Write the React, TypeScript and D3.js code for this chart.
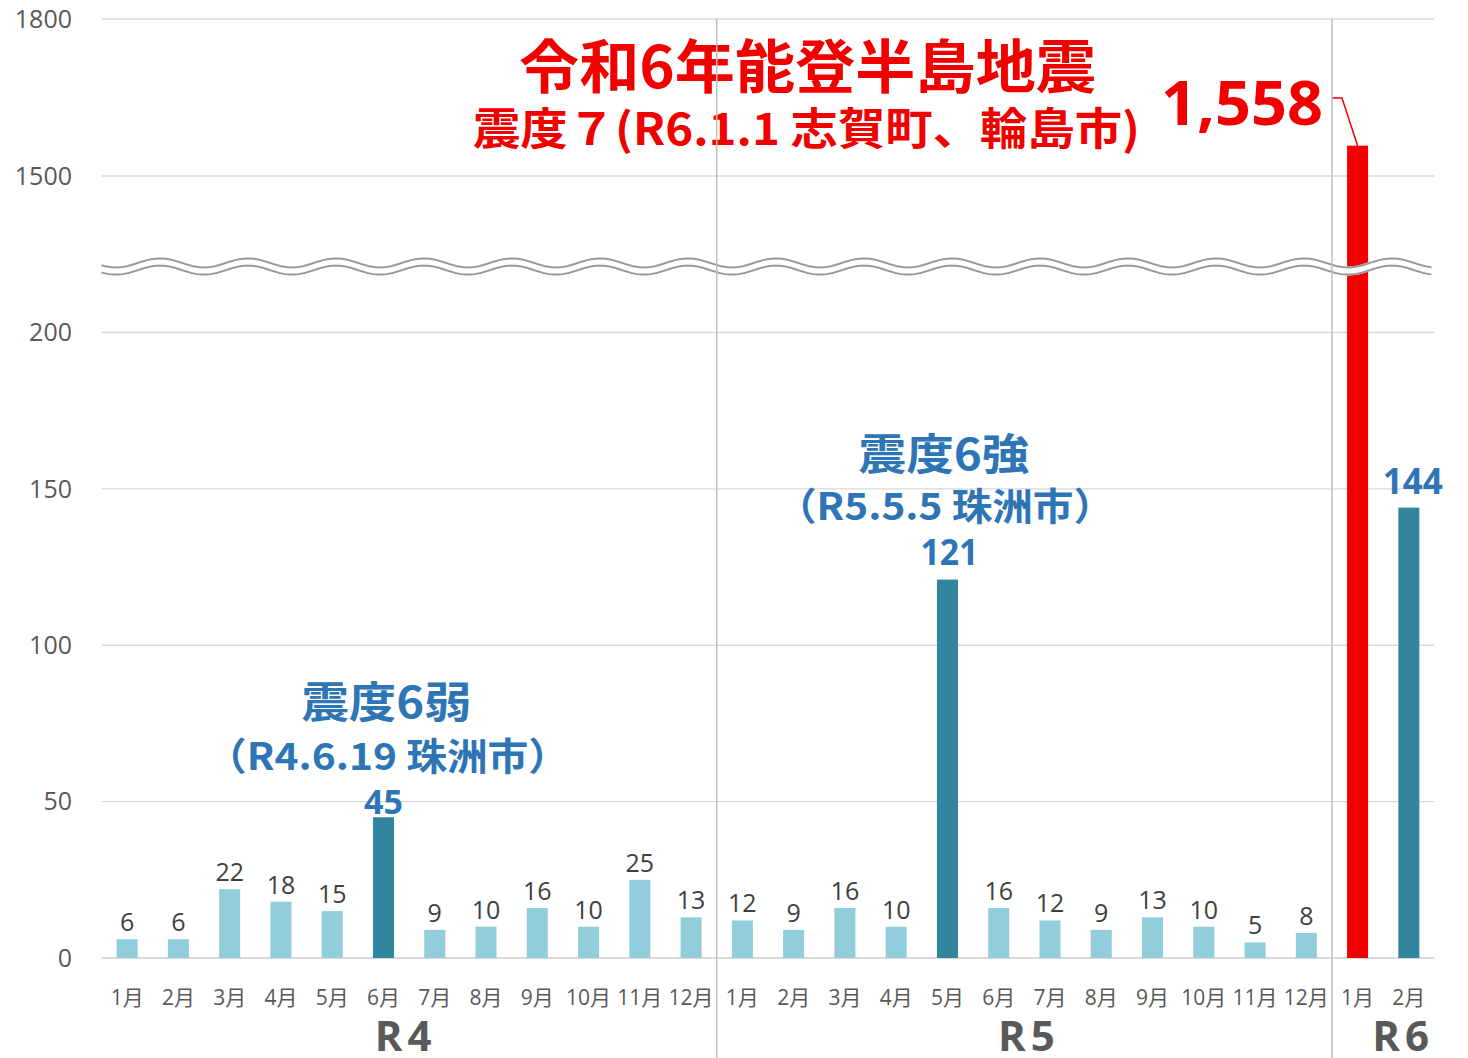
import React from "react";
import * as d3 from "d3";

const months = ["1月","2月","3月","4月","5月","6月","7月","8月","9月","10月","11月","12月","1月","2月","3月","4月","5月","6月","7月","8月","9月","10月","11月","12月","1月","2月"];
const values = [6,6,22,18,15,45,9,10,16,10,25,13,12,9,16,10,121,16,12,9,13,10,5,8,1558,144];
const barKinds = ["l","l","l","l","l","d","l","l","l","l","l","l","l","l","l","l","d","l","l","l","l","l","l","l","r","d"];
const yTicks = [0,50,100,150,200,1500,1800];
const years = [{ label: "R4", from: 0, to: 11 }, { label: "R5", from: 12, to: 23 }, { label: "R6", from: 24, to: 25 }];
const dividersAfter = [11, 23];

const W = 1468, H = 1058;
const LEFT = 101.5, RIGHT = 1434.5;
const NUM = "'Open Sans', 'Noto Sans CJK JP', sans-serif";
const JP = "'Noto Sans CJK JP', 'Open Sans', sans-serif";
const BLUE = "#2E75B6";
const RED = "#F20000";
const colors: Record<string, string> = { l: "#92CDDC", d: "#31859C", r: "#F20000" };

export default function App() {
  const x = d3.scaleBand<number>().domain(d3.range(values.length)).range([LEFT, RIGHT]).paddingInner(0.59).paddingOuter(0.295);
  const y = d3.scaleLinear().domain([0, 200, 1500, 1800]).range([958, 332.5, 176, 19]);
  const step = x.step();
  const cx = (i: number) => (x(i) as number) + x.bandwidth() / 2;
  const divX = (i: number) => LEFT + (i + 1) * step;

  const waveY0 = 266.5;
  const wave = (off: number) => {
    const pts: [number, number][] = [];
    for (let px = LEFT; px <= 1432; px += 2) {
      pts.push([px, waveY0 + off - 4.5 * Math.cos((2 * Math.PI * (px - 160)) / 88)]);
    }
    return d3.line()(pts) as string;
  };

  const vTop = (i: number) => y(values[i]);
  const i1558 = 24;
  const LS = 5;
  const yearShift: Record<string, number> = { R4: -6, R5: 2, R6: 17.5 };

  return (
    <svg width={W} height={H} style={{ position: "absolute", left: 0, top: 0, background: "#fff" }}>
      {/* gridlines */}
      {yTicks.map((t) => (
        <line key={t} x1={LEFT} x2={RIGHT} y1={y(t)} y2={y(t)} stroke="#D9D9D9" strokeWidth={t === 0 ? 2 : 1.3} />
      ))}
      {yTicks.map((t) => (
        <text key={"l" + t} x={72} y={y(t)} dy="0.35em" textAnchor="end" fontFamily={NUM} fontSize={25} fill="#595959">{t}</text>
      ))}

      {/* bars */}
      {values.map((v, i) => (
        <rect key={i} x={x(i)} y={y(v)} width={x.bandwidth()} height={958 - y(v)} fill={colors[barKinds[i]]} />
      ))}

      {/* value labels for regular bars */}
      {values.map((v, i) =>
        barKinds[i] === "l" ? (
          <text key={"v" + i} x={cx(i)} y={vTop(i) - 8} textAnchor="middle" fontFamily={NUM} fontSize={25} fill="#404040">{v}</text>
        ) : null
      )}

      {/* wave break */}
      <path d={wave(0)} fill="none" stroke="#fff" strokeWidth={9} />
      <path d={wave(-3.6)} fill="none" stroke="#9A9A9A" strokeWidth={2} />
      <path d={wave(3.6)} fill="none" stroke="#9A9A9A" strokeWidth={2} />

      {/* month labels */}
      {months.map((m, i) => (
        <text key={"m" + i} x={cx(i)} y={1005} textAnchor="middle" fontFamily={NUM} fontSize={21} fill="#595959">{m}</text>
      ))}
      {years.map((yr) => (
        <text key={yr.label} x={(cx(yr.from) + cx(yr.to)) / 2 + LS / 2 + yearShift[yr.label]} y={1051} textAnchor="middle" fontFamily={NUM} fontWeight={700} fontSize={42} letterSpacing={LS} fill="#595959">{yr.label}</text>
      ))}

      {/* annotations */}
      <text x={386.5} y={718} textAnchor="middle" fontFamily={JP} fontWeight={700} fontSize={43} textLength={170} lengthAdjust="spacingAndGlyphs" fill={BLUE}>震度6弱</text>
      <text x={387.5} y={770} textAnchor="middle" fontFamily={JP} fontWeight={700} fontSize={38} textLength={363} lengthAdjust="spacingAndGlyphs" fill={BLUE}>（R4.6.19 珠洲市）</text>
      <text x={cx(5)} y={814} textAnchor="middle" fontFamily={NUM} fontWeight={700} fontSize={34} fill={BLUE}>{values[5]}</text>

      <text x={944} y={470} textAnchor="middle" fontFamily={JP} fontWeight={700} fontSize={43} textLength={171} lengthAdjust="spacingAndGlyphs" fill={BLUE}>震度6強</text>
      <text x={945} y={520} textAnchor="middle" fontFamily={JP} fontWeight={700} fontSize={38} textLength={338} lengthAdjust="spacingAndGlyphs" fill={BLUE}>（R5.5.5 珠洲市）</text>
      <text x={cx(16) + 2} y={565} textAnchor="middle" fontFamily={NUM} fontWeight={700} fontSize={35} textLength={58} lengthAdjust="spacingAndGlyphs" fill={BLUE}>{values[16]}</text>

      <text x={cx(25) + 4} y={494} textAnchor="middle" fontFamily={NUM} fontWeight={700} fontSize={35} textLength={60} lengthAdjust="spacingAndGlyphs" fill={BLUE}>{values[25]}</text>

      <text x={807.5} y={88} textAnchor="middle" fontFamily={JP} fontWeight={700} fontSize={58} textLength={577} lengthAdjust="spacingAndGlyphs" fill={RED}>令和6年能登半島地震</text>
      <text x={806.5} y={145} textAnchor="middle" fontFamily={JP} fontWeight={700} fontSize={44} textLength={667} lengthAdjust="spacingAndGlyphs" fill={RED}>震度７(R6.1.1 志賀町、輪島市)</text>

      <text x={1242} y={125} textAnchor="middle" fontFamily={NUM} fontWeight={700} fontSize={61} textLength={162} lengthAdjust="spacingAndGlyphs" fill={RED}>{d3.format(",")(values[i1558])}</text>
      <polyline points={`1332,98 1342,98 ${cx(i1558)},${vTop(i1558)}`} fill="none" stroke={RED} strokeWidth={1.5} />

      {/* dividers */}
      {dividersAfter.map((d) => (
        <line key={"d" + d} x1={divX(d)} x2={divX(d)} y1={19} y2={H} stroke="#BFBFBF" strokeWidth={1.5} />
      ))}
    </svg>
  );
}
